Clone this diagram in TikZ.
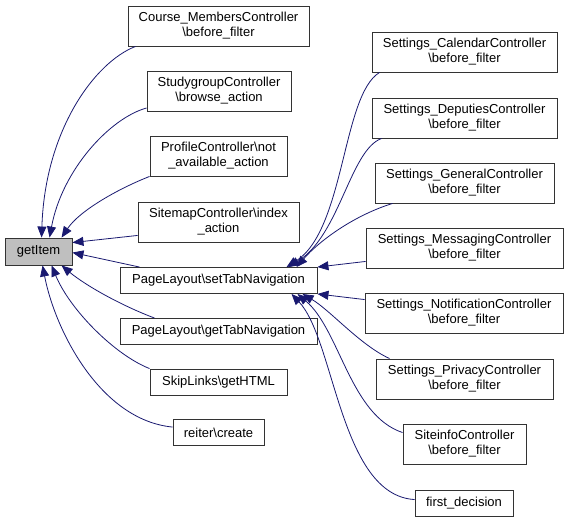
\documentclass[tikz,border=0pt]{standalone}
\usepackage{fontspec}
\setmainfont{Liberation Sans}
\usetikzlibrary{arrows.meta}
\definecolor{edgeblue}{RGB}{25,25,112}
\definecolor{rootgrey}{RGB}{191,191,191}

\begin{document}
\begin{tikzpicture}[x=1pt, y=-1pt,
    fn/.style={draw=black!80, line width=0.9pt, fill=white, align=center, inner sep=0pt,
        font=\fontsize{13}{15}\selectfont, minimum height=40pt},
    onefn/.style={fn, minimum height=26pt},
    calledge/.style={draw=edgeblue, line width=0.8pt, -{Triangle[length=11pt,width=9pt]}}]
    \useasboundingbox (0,0) rectangle (569,522);

    \node (getitem) at (38.5,251.5) [onefn,fill=rootgrey,minimum width=67pt,minimum height=27pt] {getItem};

    \node (course) at (218.5,26) [fn,minimum width=181pt] {Course\_MembersController\\\textbackslash before\_filter};
    \node (study) at (219,91) [fn,minimum width=144pt] {StudygroupController\\\textbackslash browse\_action};
    \node (profile) at (218.5,156) [fn,minimum width=137pt] {ProfileController\textbackslash not\\\_available\_action};
    \node (sitemap) at (218.5,222) [fn,minimum width=161pt] {SitemapController\textbackslash index\\\_action};
    \node (settab) at (218.5,280.5) [onefn,minimum width=197pt] {PageLayout\textbackslash setTabNavigation};
    \node (gettab) at (218.5,331.5) [onefn,minimum width=197pt] {PageLayout\textbackslash getTabNavigation};
    \node (skip) at (218.5,382) [onefn,minimum width=137pt] {SkipLinks\textbackslash getHTML};
    \node (reiter) at (218.5,432.5) [onefn,minimum width=91pt] {reiter\textbackslash create};

    \node (calendar) at (464.5,52) [fn,minimum width=185pt] {Settings\_CalendarController\\\textbackslash before\_filter};
    \node (deputies) at (464.5,118) [fn,minimum width=185pt] {Settings\_DeputiesController\\\textbackslash before\_filter};
    \node (general) at (464.5,183) [fn,minimum width=179pt] {Settings\_GeneralController\\\textbackslash before\_filter};
    \node (messaging) at (464.5,248) [fn,minimum width=197pt] {Settings\_MessagingController\\\textbackslash before\_filter};
    \node (notification) at (464,313) [fn,minimum width=198pt] {Settings\_NotificationController\\\textbackslash before\_filter};
    \node (privacy) at (464.5,379) [fn,minimum width=177pt] {Settings\_PrivacyController\\\textbackslash before\_filter};
    \node (siteinfo) at (464.5,444) [fn,minimum width=123pt] {SiteinfoController\\\textbackslash before\_filter};
    \node (firstdec) at (464,503) [onefn,minimum width=98pt] {first\_decision};

    \draw[calledge] ([xshift=8pt]course.south west) .. controls (95,62) and (45,130) .. ([xshift=37pt]getitem.north west);
    \draw[calledge] ([yshift=-17pt]study.west) .. controls (110,118) and (62,170) .. ([xshift=45pt]getitem.north west);
    \draw[calledge] (profile.south west) .. controls (120,188) and (80,210) .. ([xshift=57pt]getitem.north west);
    \draw[calledge] ([yshift=7pt]sitemap.south west) -- ([yshift=-5pt]getitem.north east);
    \draw[calledge] ([xshift=20pt]settab.north west) -- ([yshift=-15pt]getitem.north east);
    \draw[calledge] ([xshift=35pt]gettab.north west) .. controls (120,305) and (85,285) .. ([xshift=57pt]getitem.south west);
    \draw[calledge] (skip.north west) .. controls (115,355) and (70,310) .. ([xshift=47pt]getitem.south west);
    \draw[calledge] ([yshift=-8pt]reiter.north west) .. controls (100,420) and (55,330) .. ([xshift=38pt]getitem.south west);

    \draw[calledge] ([xshift=8pt]calendar.south west) .. controls (342,95) and (345,230) .. ([xshift=167pt]settab.north west);
    \draw[calledge] ([xshift=10pt]deputies.south west) .. controls (350,150) and (340,235) .. ([xshift=169pt]settab.north west);
    \draw[calledge] ([xshift=18pt]general.south west) .. controls (355,215) and (320,240) .. ([xshift=177pt]settab.north west);
    \draw[calledge] ([yshift=7pt]messaging.south west) -- (settab.north east);
    \draw[calledge] ([yshift=-7pt]notification.north west) -- (settab.south east);
    \draw[calledge] ([xshift=14pt]privacy.north west) .. controls (360,345) and (330,310) .. ([xshift=183pt]settab.south west);
    \draw[calledge] ([yshift=-9pt]siteinfo.north west) .. controls (350,415) and (340,330) .. ([xshift=178pt]settab.south west);
    \draw[calledge] ([yshift=-10pt]firstdec.north west) .. controls (340,495) and (335,340) .. ([xshift=172pt]settab.south west);
\end{tikzpicture}
\end{document}
